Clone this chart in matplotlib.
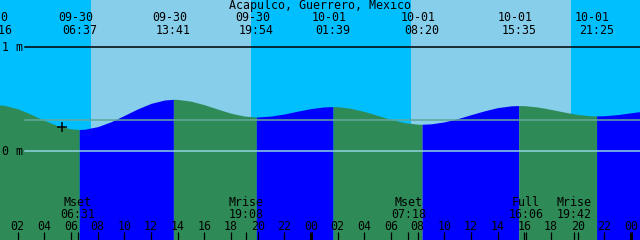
import matplotlib
matplotlib.use('Agg')
import matplotlib.pyplot as plt
import matplotlib.transforms as mtransforms

station = 'Acapulco, Guerrero, Mexico'

# water level (m) read every hour, hours counted from 09-30 00:00
hours = list(range(50))
heights = [0.450, 0.442, 0.409, 0.356, 0.297, 0.246, 0.216, 0.212, 0.237, 0.284,
           0.345, 0.408, 0.461, 0.493, 0.499, 0.482, 0.448, 0.406, 0.366, 0.339,
           0.330, 0.339, 0.359, 0.386, 0.411, 0.427, 0.429, 0.413, 0.383, 0.345,
           0.306, 0.276, 0.261, 0.264, 0.283, 0.314, 0.352, 0.389, 0.420, 0.437,
           0.439, 0.426, 0.403, 0.377, 0.354, 0.341, 0.342, 0.353, 0.370, 0.388]

# high / low tides
tide_times = [0.27, 6.62, 13.68, 19.90, 25.65, 32.33, 39.58, 45.42]
tide_heights = [0.45, 0.21, 0.50, 0.33, 0.43, 0.26, 0.44, 0.34]
tide_dates = ['09-30', '09-30', '09-30', '09-30', '10-01', '10-01', '10-01', '10-01']
tide_labels = ['00:16', '06:37', '13:41', '19:54', '01:39', '08:20', '15:35', '21:25']

# daylight
day_starts = [7.5, 31.5]
day_ends = [19.5, 43.5]

# moon events
moon_times = [6.52, 19.13, 31.30, 40.10, 43.70]
moon_names = ['Mset', 'Mrise', 'Mset', 'Full', 'Mrise']
moon_labels = ['06:31', '19:08', '07:18', '16:06', '19:42']

hour_ticks = [2, 4, 6, 8, 10, 12, 14, 16, 18, 20, 22, 24,
              26, 28, 30, 32, 34, 36, 38, 40, 42, 44, 46, 48]
hour_labels = ['02', '04', '06', '08', '10', '12', '14', '16', '18', '20', '22', '00',
               '02', '04', '06', '08', '10', '12', '14', '16', '18', '20', '22', '00']
midnights = [24, 48]

now_time = 5.33
now_height = 0.234
mean_level = 0.298

night_color = '#00bfff'
day_color = '#87ceeb'
flood_color = '#0000ff'
ebb_color = '#2e8b57'

fig = plt.figure(figsize=(6.4, 2.4), dpi=100)
ax = fig.add_axes([0, 0, 1, 1])
ax.set_xlim(0.675, 48.675)
ax.set_ylim(-0.853, 1.455)
ax.axis('off')
ax.add_patch(plt.Rectangle((0, 0), 1, 1, transform=ax.transAxes, color=night_color, zorder=0))
for a, b in zip(day_starts, day_ends):
    ax.axvspan(a, b, color=day_color, lw=0, zorder=0.5)

# curve: blue while rising, green while falling
pts = sorted(zip(hours + tide_times, heights + tide_heights))
t = [p[0] for p in pts]
h = [p[1] for p in pts]
bounds = [t[0]] + tide_times + [t[-1]]
for a, b in zip(bounds[:-1], bounds[1:]):
    seg = [(ti, hi) for ti, hi in zip(t, h) if a <= ti <= b]
    if len(seg) < 2:
        continue
    st = [s[0] for s in seg]
    sh = [s[1] for s in seg]
    col = flood_color if sh[-1] > sh[0] else ebb_color
    ax.fill_between(st, sh, -1, color=col, lw=0, zorder=1)

x0 = 25 / 640
ax.axhline(1, xmin=x0, color='black', lw=1.1, zorder=2)
ax.axhline(0, xmin=x0, color='#8fd3e0', lw=1.1, zorder=2)
ax.axhline(mean_level, xmin=x0, color='#62a89c', lw=1.1, zorder=2)
ax.plot([now_time], [now_height], marker='+', color='black', ms=7, mew=1.1, zorder=3)

fnt = dict(family='DejaVu Sans Mono', fontsize=8.4, color='black', va='baseline')
tr = mtransforms.blended_transform_factory(ax.transData, ax.transAxes)


def yp(p):
    return 1 - p / 240


ax.text(0.5, yp(9), station, transform=ax.transAxes, ha='center', **fnt)
ax.text(1.5 / 640, yp(51), '1 m', transform=ax.transAxes, ha='left', **fnt)
ax.text(1.5 / 640, yp(155), '0 m', transform=ax.transAxes, ha='left', **fnt)

for tt, d, lab in zip(tide_times, tide_dates, tide_labels):
    ax.text(tt - 0.3, yp(21), d, transform=tr, ha='center', **fnt)
    ax.text(tt, yp(34), lab, transform=tr, ha='center', **fnt)

for tt, name, lab in zip(moon_times, moon_names, moon_labels):
    ax.text(tt, yp(206), name, transform=tr, ha='center', **fnt)
    ax.text(tt, yp(218.5), lab, transform=tr, ha='center', **fnt)
    ax.vlines(tt, 0, 8 / 240, transform=tr, color='black', lw=0.9)

for tt, lab in zip(hour_ticks, hour_labels):
    ax.text(tt, yp(230), lab, transform=tr, ha='center', **fnt)
    ax.vlines(tt, 0, 8 / 240, transform=tr, color='black',
              lw=2.2 if tt in midnights else 0.9)

fig.savefig('out.png', dpi=100)
